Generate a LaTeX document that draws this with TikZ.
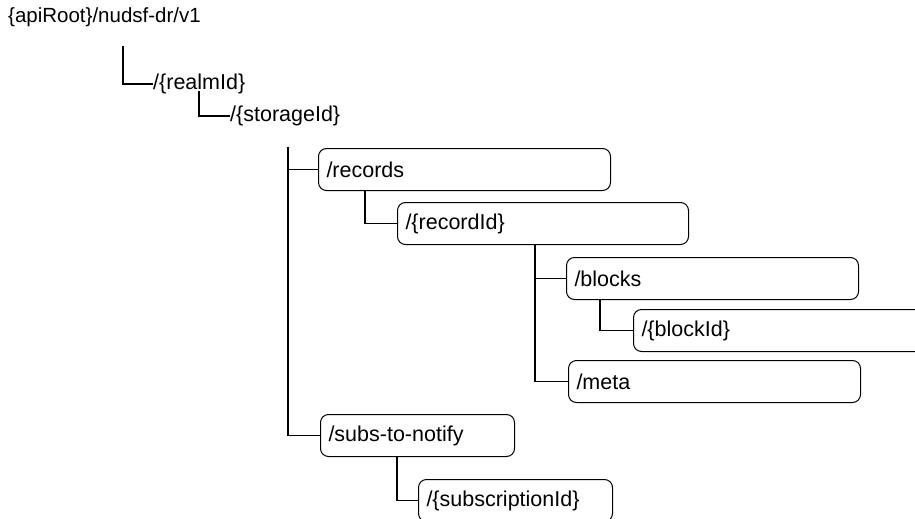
\documentclass[tikz,border=0pt]{standalone}
\usepackage{fontspec}
\setmainfont{Liberation Sans}
\usetikzlibrary{positioning}
\newcommand\resfont{\fontsize{21.5}{26}\selectfont}

\begin{document}
\begin{tikzpicture}[
    x=1pt, y=-1pt,
    res/.style={rectangle, draw, line width=1pt, rounded corners=8pt, minimum height=42pt,
      inner xsep=8pt, inner ysep=0pt, text width=#1, align=left, font=\resfont},
    txt/.style={inner sep=0pt, anchor=west, font=\resfont},
    branch/.style={line width=1.2pt}
  ]
    \useasboundingbox (0,0) rectangle (915,519);
    \clip (0,0) rectangle (915,519);

    % Path prefix
    \node[txt, font=\fontsize{20.5}{25}\selectfont] (root) at (8,17) {\{apiRoot\}/nudsf-dr/v1};
    \node[txt] (realm) at (153,84) {/\{realmId\}};
    \node[txt] (storage) at (230,116) {/\{storageId\}};

    % Resources
    \node[res=276pt, anchor=north west] (records) at (318,148) {/records};
    \node[res=275pt, below=11pt of records.south west, anchor=north west, xshift=79pt] (recordId) {/\{recordId\}};
    \node[res=276pt, below=12pt of recordId.south west, anchor=north west, xshift=169pt] (blocks) {/blocks};
    \node[res=304pt, below=9pt of blocks.south west, anchor=north west, xshift=67pt] (blockId) {/\{blockId\}};
    \node[res=276pt, below=60pt of blocks.south west, anchor=north west, xshift=2pt] (meta) {/meta};
    \node[res=178pt, below=223pt of records.south west, anchor=north west, xshift=2pt] (subs) {/subs-to-notify};
    \node[res=178pt, below=22pt of subs.south west, anchor=north west, xshift=98pt] (subscriptionId) {/\{subscriptionId\}};

    % Tree lines
    \coordinate (trunk) at ([xshift=58pt,yshift=-25pt]storage.base west);
    \coordinate (recFork) at ([xshift=138pt]recordId.south west);

    \draw[branch] ([xshift=115pt,yshift=-24pt]root.base west) |- (realm.west);
    \draw[branch] ([xshift=46pt,yshift=-1pt]realm.base west) |- (storage.west);
    \draw[branch] (trunk) |- (subs.west);
    \draw[branch] (trunk |- records.west) -- (records.west);
    \draw[branch] ([xshift=47pt]records.south west) |- (recordId.west);
    \draw[branch] (recFork) |- (meta.west);
    \draw[branch] (recFork |- blocks.west) -- (blocks.west);
    \draw[branch] ([xshift=34pt]blocks.south west) |- (blockId.west);
    \draw[branch] ([xshift=77pt]subs.south west) |- (subscriptionId.west);
  \end{tikzpicture}
\end{document}
